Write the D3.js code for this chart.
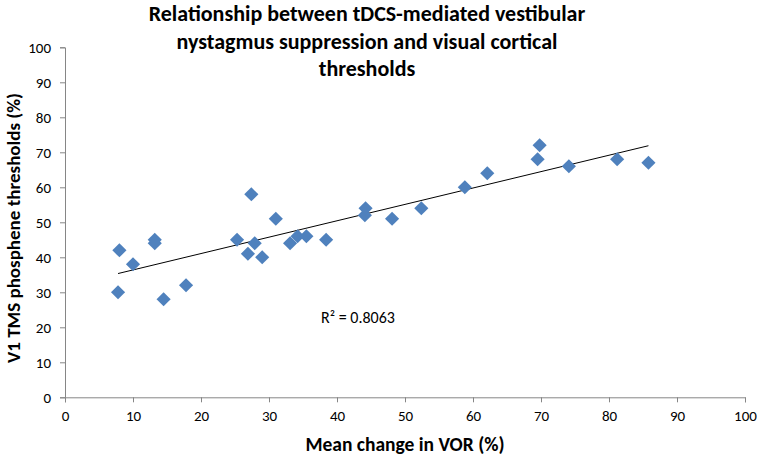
<!DOCTYPE html>
<html>
<head>
<meta charset="utf-8">
<script src="https://cdn.jsdelivr.net/npm/d3@7"></script>
<style>
  html, body { margin: 0; padding: 0; background: #fff; }
  svg { display: block; }
  text { font-family: Carlito, Lato, "Liberation Sans", sans-serif; fill: #000; }
</style>
</head>
<body>
<svg id="chart" width="757" height="455"></svg>
<script>
// ---- data ----
const vorChange = [7.8, 8, 10, 13.2, 13.2, 14.5, 17.8, 25.3, 26.9, 27.4, 27.9, 29, 31, 33.1, 34.2, 35.5, 38.4, 44.1, 44.2, 48.1, 52.4, 58.8, 62.1, 69.5, 69.8, 74.1, 81.2, 85.8];
const tmsThreshold = [30, 42, 38, 45, 44, 28, 32, 45, 41, 58, 44, 40, 51, 44, 46, 46, 45, 52, 54, 51, 54, 60, 64, 68, 72, 66, 68, 67];
const xTicks = [0, 10, 20, 30, 40, 50, 60, 70, 80, 90, 100];
const yTicks = [0, 10, 20, 30, 40, 50, 60, 70, 80, 90, 100];
const titleLines = ["Relationship between tDCS-mediated vestibular", "nystagmus suppression and visual cortical", "thresholds"];
const xLabel = "Mean change in VOR (%)";
const yLabel = "V1 TMS phosphene thresholds (%)";
const r2Label = "R² = 0.8063";

// ---- layout ----
const svg = d3.select("#chart");
const plot = { left: 65, right: 745, top: 47.3, bottom: 397.3 };
const x = d3.scaleLinear().domain([0, 100]).range([plot.left, plot.right]);
const y = d3.scaleLinear().domain([0, 100]).range([plot.bottom, plot.top]);
const axisColor = "#868686";

// axes
const xAxis = svg.append("g").attr("transform", `translate(0,${plot.bottom})`)
  .call(d3.axisBottom(x).tickValues(xTicks).tickSize(5).tickPadding(4).tickFormat(d3.format("d")));
const yAxis = svg.append("g").attr("transform", `translate(${plot.left},0)`)
  .call(d3.axisLeft(y).tickValues(yTicks).tickSize(5).tickPadding(9).tickFormat(d3.format("d")));
[xAxis, yAxis].forEach(g => {
  g.select(".domain").attr("stroke", axisColor).attr("stroke-width", 1);
  g.selectAll(".tick line").attr("stroke", axisColor);
  g.selectAll(".tick text").attr("fill", "#000").style("font-size", "15px")
    .style("font-family", "Carlito, Lato, sans-serif");
});
xAxis.selectAll(".tick text").attr("dy", "1em");

// trendline (least squares)
const n = vorChange.length;
const mx = d3.mean(vorChange), my = d3.mean(tmsThreshold);
let sxy = 0, sxx = 0;
for (let i = 0; i < n; i++) { sxy += (vorChange[i]-mx)*(tmsThreshold[i]-my); sxx += (vorChange[i]-mx)**2; }
const slope = sxy / sxx, intercept = my - slope * mx;
const [x0, x1] = d3.extent(vorChange);
svg.append("line")
  .attr("x1", x(x0)).attr("y1", y(intercept + slope * x0))
  .attr("x2", x(x1)).attr("y2", y(intercept + slope * x1))
  .attr("stroke", "#000").attr("stroke-width", 1);

// points
const diamond = d3.symbol().type(d3.symbolSquare).size(100);
svg.append("g").selectAll("path").data(vorChange.map((v, i) => [v, tmsThreshold[i]]))
  .join("path")
  .attr("d", diamond)
  .attr("transform", d => `translate(${x(d[0])},${y(d[1])}) rotate(45)`)
  .attr("fill", "#4F81BD");

// R² label
svg.append("text").attr("x", 321).attr("y", 323).style("font-size", "16px").text(r2Label);

// title (font size fitted so the first line spans the reference width)
const title = svg.append("g").selectAll("text").data(titleLines).join("text")
  .attr("x", 367).attr("y", (d, i) => 21 + i * 27.5)
  .attr("text-anchor", "middle")
  .style("font-size", "20px").style("font-weight", "bold")
  .text(d => d);
const w1 = title.node().getComputedTextLength();
const fs = Math.min(22, 20 * 455 / w1);
title.style("font-size", fs + "px");

// axis titles
svg.append("text").attr("x", (plot.left + plot.right) / 2).attr("y", 451)
  .attr("text-anchor", "middle").style("font-size", "19.5px").style("font-weight", "bold")
  .text(xLabel);
svg.append("text")
  .attr("transform", `translate(20,228) rotate(-90)`)
  .attr("text-anchor", "middle").style("font-size", "19px").style("font-weight", "bold")
  .text(yLabel);
</script>
</body>
</html>
